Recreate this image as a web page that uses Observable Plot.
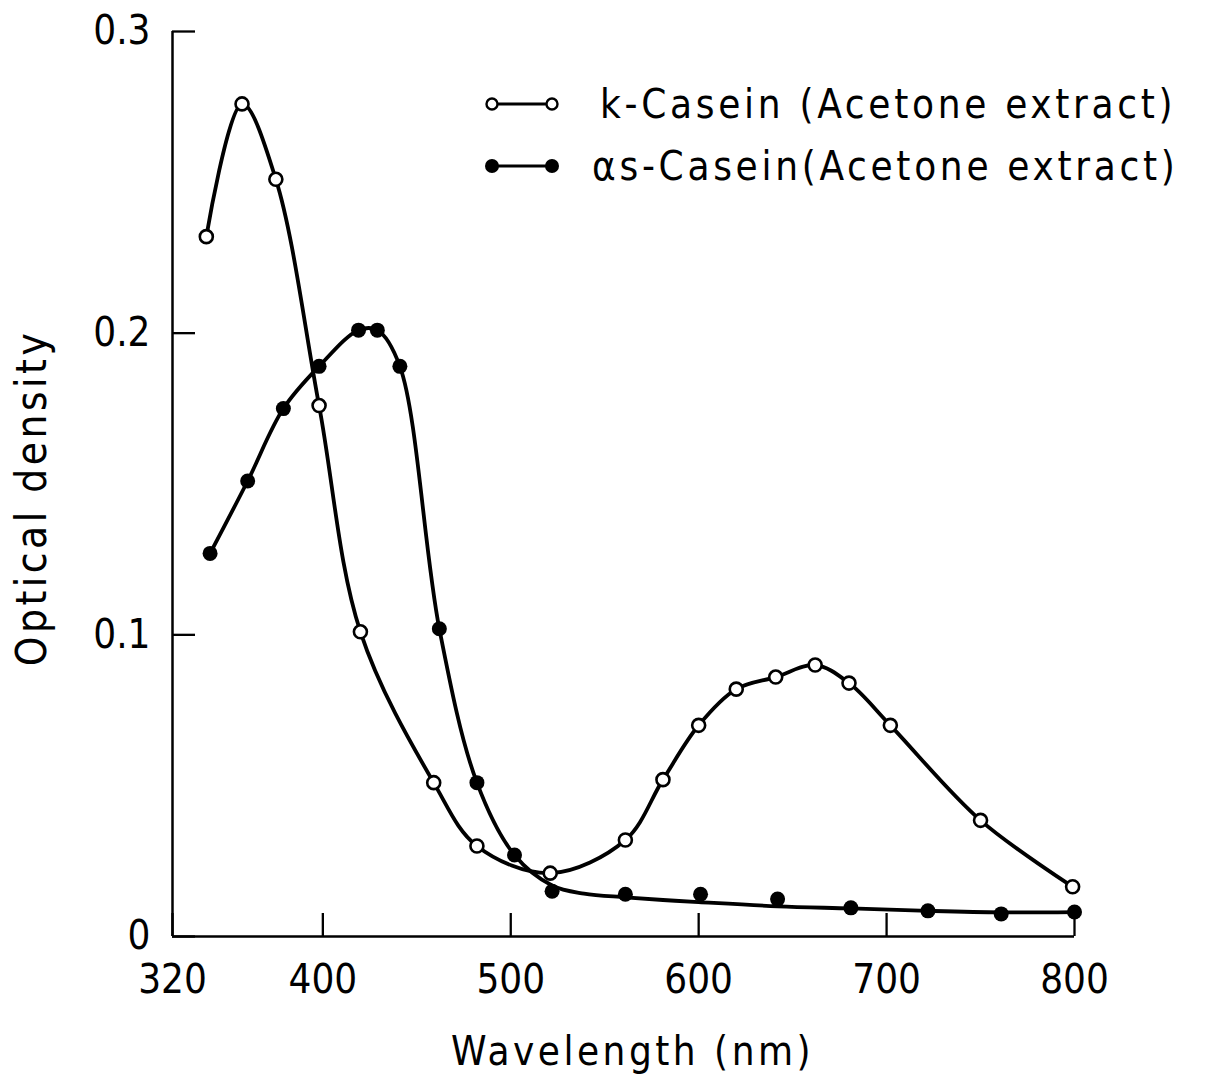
<!DOCTYPE html>
<html>
<head>
<meta charset="utf-8">
<script src="https://cdn.jsdelivr.net/npm/d3@7"></script>
<script src="https://cdn.jsdelivr.net/npm/@observablehq/plot@0.6"></script>
<style>
  html, body { margin: 0; padding: 0; background: #fff; }
  #chart { position: relative; width: 1211px; height: 1082px; }
  #chart svg { display: block; }
  #legend { position: absolute; left: 0; top: 0; pointer-events: none; }
</style>
</head>
<body>
<div id="chart"></div>
<script>
// Absorption spectra of acetone extracts (optical density vs wavelength)

// k-Casein, open circles
const kWavelength = [338, 357, 375, 398, 420, 459, 482, 521, 561, 581, 600, 620, 641, 662, 680, 702, 750, 799];
const kDensity    = [0.232, 0.276, 0.251, 0.176, 0.101, 0.051, 0.030, 0.021, 0.032, 0.052, 0.070, 0.082, 0.086, 0.090, 0.084, 0.070, 0.0385, 0.0165];

// αs-Casein, filled circles
const asWavelength = [340, 360, 379, 398, 419, 429, 441, 462, 482, 502, 522, 561, 601, 642, 681, 722, 761, 800];
const asDensity    = [0.127, 0.151, 0.175, 0.189, 0.201, 0.201, 0.189, 0.102, 0.051, 0.027, 0.015, 0.014, 0.014, 0.0124, 0.0095, 0.0085, 0.0075, 0.0081];

// smoothed tail drawn through the scattered αs-Casein readings above 500 nm
const asFitWavelength = [522, 539, 561, 581, 600, 642, 681, 722, 761, 800];
const asFitDensity    = [0.0169, 0.0142, 0.0130, 0.0121, 0.0114, 0.0100, 0.0093, 0.0085, 0.0080, 0.0081];

const xTicks = [320, 400, 500, 600, 700, 800];
const xTickLabels = ["320", "400", "500", "600", "700", "800"];
const yTicks = [0, 0.1, 0.2, 0.3];
const yTickLabels = ["0", "0.1", "0.2", "0.3"];

const xLabel = "Wavelength (nm)";
const yLabel = "Optical density";
const seriesNames = ["k-Casein (Acetone extract)", "αs-Casein(Acetone extract)"];

// tables built from the arrays above
const kPoints = kWavelength.map((w, i) => ({w, v: kDensity[i]}));
const asPoints = asWavelength.map((w, i) => ({w, v: asDensity[i]}));
const asLine = asPoints.filter(d => d.w <= 502)
  .concat(asFitWavelength.map((w, i) => ({w, v: asFitDensity[i]})));

const W = 1211, H = 1082;
const M = {top: 31, right: 137, bottom: 146, left: 172};
const plotW = W - M.left - M.right;
const plotH = H - M.top - M.bottom;
const FONT = "'DejaVu Sans Condensed', 'DejaVu Sans', sans-serif";
const tickLen = 23;

const chart = Plot.plot({
  width: W,
  height: H,
  marginTop: M.top,
  marginRight: M.right,
  marginBottom: M.bottom,
  marginLeft: M.left,
  style: {fontFamily: FONT, fontSize: "40px", fontStretch: "condensed", color: "#000", background: "#fff"},
  x: {domain: [320, 800], axis: null},
  y: {domain: [0, 0.3], axis: null},
  marks: [
    // axis lines
    Plot.ruleX([320], {stroke: "#000", strokeWidth: 2.5}),
    Plot.ruleY([0], {stroke: "#000", strokeWidth: 2.5}),
    // inward ticks
    Plot.ruleX(xTicks, {x: d => d, insetTop: plotH - tickLen, stroke: "#000", strokeWidth: 2.3}),
    Plot.ruleY(yTicks, {y: d => d, insetRight: plotW - tickLen, stroke: "#000", strokeWidth: 2.3}),
    // tick labels
    Plot.text(xTicks, {x: d => d, text: (d, i) => xTickLabels[i], frameAnchor: "bottom",
      dy: 44, textAnchor: "middle", lineAnchor: "middle", fill: "#000"}),
    Plot.text(yTicks, {y: d => d, text: (d, i) => yTickLabels[i], frameAnchor: "left",
      dx: -22, dy: 0, textAnchor: "end", lineAnchor: "middle", fill: "#000"}),
    // axis titles
    Plot.text([xLabel], {frameAnchor: "bottom", dx: 9, dy: 116, textAnchor: "middle",
      lineAnchor: "middle", fontSize: 40, fill: "#000"}),
    Plot.text([yLabel], {frameAnchor: "left", rotate: -90, dx: -140, dy: 14, textAnchor: "middle",
      lineAnchor: "middle", fontSize: 42, fill: "#000"}),
    // curves
    Plot.line(kPoints, {x: "w", y: "v", curve: "catmull-rom", stroke: "#000", strokeWidth: 3.8}),
    Plot.line(asLine, {x: "w", y: "v", curve: "catmull-rom", stroke: "#000", strokeWidth: 3.8}),
    // measured points
    Plot.dot(asPoints, {x: "w", y: "v", r: 7.5, fill: "#000", stroke: "none"}),
    Plot.dot(kPoints, {x: "w", y: "v", r: 6.5, fill: "#fff", stroke: "#000", strokeWidth: 2.6})
  ]
});

const host = document.getElementById("chart");
host.appendChild(chart);

// widen the lettering of the axis titles
d3.select(chart).selectAll("text").each(function () {
  const t = this.textContent;
  if (t === xLabel) d3.select(this).attr("letter-spacing", "3.5px");
  if (t === yLabel) d3.select(this).attr("letter-spacing", "3.5px");
});

// key in the upper right
const legend = d3.select(host).append("svg")
  .attr("id", "legend")
  .attr("width", W).attr("height", H);

const rows = [
  {y: 104, filled: false, tx: 600},
  {y: 166, filled: true, tx: 592}
];
rows.forEach((r, i) => {
  const g = legend.append("g");
  g.append("line").attr("x1", 492).attr("x2", 552).attr("y1", r.y).attr("y2", r.y)
    .attr("stroke", "#000").attr("stroke-width", 3);
  [492, 552].forEach(cx => {
    g.append("circle").attr("cx", cx).attr("cy", r.y).attr("r", r.filled ? 7 : 5.5)
      .attr("fill", r.filled ? "#000" : "#fff")
      .attr("stroke", r.filled ? "none" : "#000").attr("stroke-width", 2.4);
  });
  g.append("text").attr("x", r.tx).attr("y", r.y + 14)
    .attr("font-family", FONT).attr("font-stretch", "condensed").attr("font-size", 40)
    .attr("letter-spacing", "3.7px").attr("fill", "#000")
    .text(seriesNames[i]);
});
</script>
</body>
</html>
